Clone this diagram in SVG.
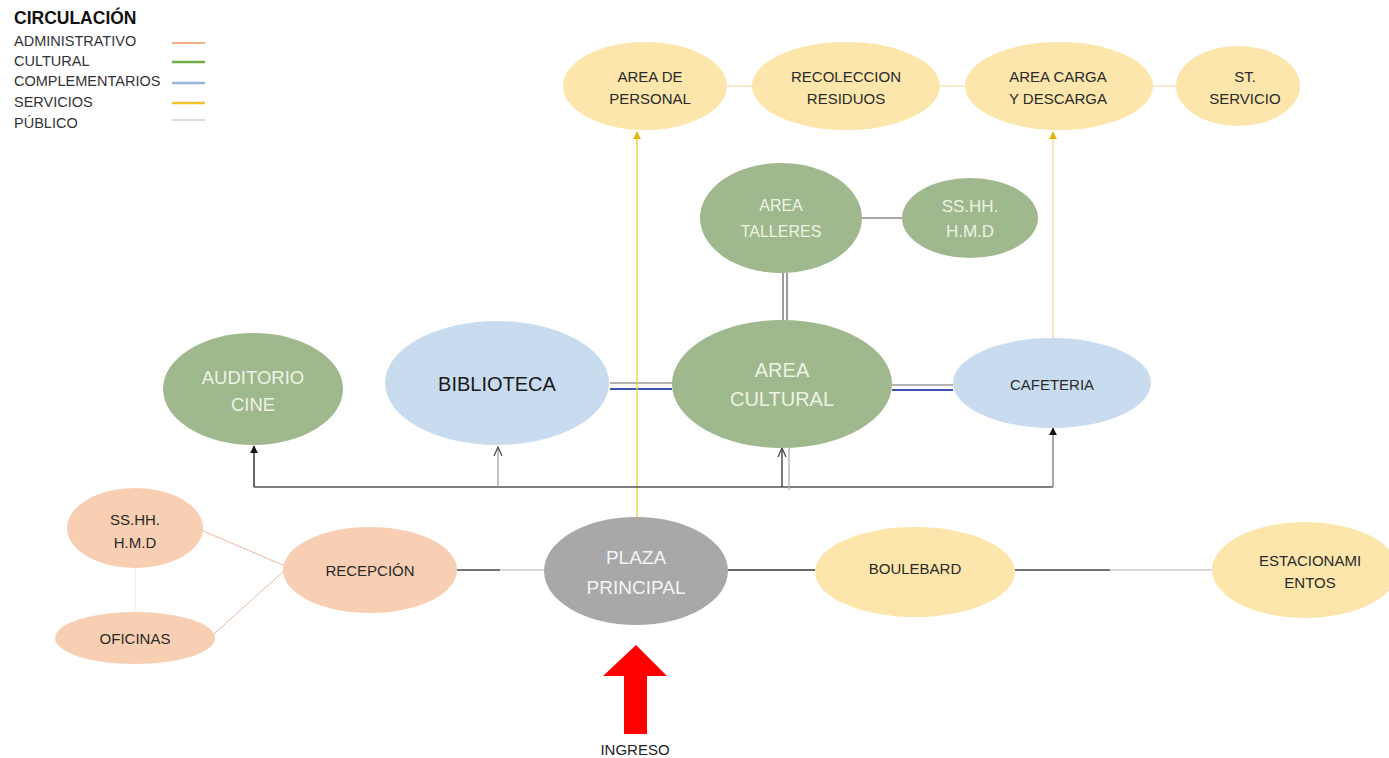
<svg xmlns="http://www.w3.org/2000/svg" width="1389" height="758" viewBox="0 0 1389 758">
<defs>
<style>
text{font-family:"Liberation Sans",Arial,sans-serif;text-anchor:middle;dominant-baseline:central}
.leg{text-anchor:start;font-size:14.5px;fill:#333}
.y{fill:#fce6ab}
.g{fill:#9fb88e}
.b{fill:#c9dcef}
.p{fill:#f8cfb2}
.gr{fill:#a8a8a8}
.dk{fill:#2a2a2a;font-size:15px}
.lt{fill:#eef3e2}
.ln{fill:none;stroke-width:1.3}
</style>
<marker id="af" viewBox="0 0 10 10" refX="9" refY="5" markerWidth="8" markerHeight="8" orient="auto" markerUnits="userSpaceOnUse"><path d="M0,0L10,5L0,10z" fill="#111"/></marker>
<marker id="ay" viewBox="0 0 10 10" refX="9" refY="5" markerWidth="8" markerHeight="8" orient="auto" markerUnits="userSpaceOnUse"><path d="M0,0L10,5L0,10z" fill="#e0b800"/></marker>
<marker id="ao" viewBox="0 0 10 10" refX="9" refY="5" markerWidth="10" markerHeight="10" orient="auto" markerUnits="userSpaceOnUse"><path d="M0,1L9,5L0,9" fill="none" stroke="#444" stroke-width="1.2"/></marker>
</defs>
<rect width="1389" height="758" fill="#fff"/>

<g id="legend">
<text x="14" y="18" style="text-anchor:start;font-size:17.5px;font-weight:bold;fill:#111">CIRCULACIÓN</text>
<text class="leg" x="14" y="41">ADMINISTRATIVO</text>
<text class="leg" x="14" y="61">CULTURAL</text>
<text class="leg" x="14" y="81">COMPLEMENTARIOS</text>
<text class="leg" x="14" y="102">SERVICIOS</text>
<text class="leg" x="14" y="123">PÚBLICO</text>
<line x1="172" y1="43" x2="205" y2="43" stroke="#f4b183" stroke-width="2"/>
<line x1="172" y1="62" x2="205" y2="62" stroke="#70ad47" stroke-width="2.5"/>
<line x1="172" y1="83" x2="205" y2="83" stroke="#9db5d8" stroke-width="2.5"/>
<line x1="172" y1="103" x2="205" y2="103" stroke="#f2c12e" stroke-width="2.5"/>
<line x1="172" y1="120" x2="205" y2="120" stroke="#d0d0d0" stroke-width="1.5"/>
</g>

<g id="connectors">
<line x1="727" y1="86" x2="752" y2="86" stroke="#f0ddb0" stroke-width="1.2"/>
<line x1="940" y1="86" x2="965" y2="86" stroke="#f0ddb0" stroke-width="1.2"/>
<line x1="1153" y1="86" x2="1177" y2="86" stroke="#f0ddb0" stroke-width="1.2"/>
<line x1="862" y1="218" x2="902" y2="218" stroke="#888" stroke-width="1.3"/>
<line x1="783" y1="273" x2="783" y2="321" stroke="#666" stroke-width="1.3"/>
<line x1="787" y1="273" x2="787" y2="321" stroke="#666" stroke-width="1.3"/>
<line x1="610" y1="383" x2="672" y2="383" stroke="#999" stroke-width="1.5"/>
<line x1="610" y1="389" x2="672" y2="389" stroke="#3c55b0" stroke-width="2"/>
<line x1="892" y1="385" x2="953" y2="385" stroke="#999" stroke-width="1.5"/>
<line x1="892" y1="390" x2="953" y2="390" stroke="#3c55b0" stroke-width="2"/>
<line x1="637" y1="517" x2="637" y2="132" stroke="#e6cf33" stroke-width="1.3" marker-end="url(#ay)"/>
<line x1="1053" y1="338" x2="1053" y2="132" stroke="#eed890" stroke-width="1.3" marker-end="url(#ay)"/>
<polyline class="ln" points="254,487 1053,487" stroke="#555"/>
<line x1="254" y1="487" x2="254" y2="446" stroke="#333" stroke-width="1.5" marker-end="url(#af)"/>
<line x1="498" y1="487" x2="498" y2="447" stroke="#999" stroke-width="1.2" marker-end="url(#ao)"/>
<line x1="782" y1="487" x2="782" y2="448" stroke="#333" stroke-width="1.3" marker-end="url(#ao)"/>
<line x1="789" y1="448" x2="789" y2="490" stroke="#aaa" stroke-width="1.2"/>
<line x1="1053" y1="487" x2="1053" y2="428" stroke="#888" stroke-width="1.5" marker-end="url(#af)"/>
<line x1="201" y1="530" x2="285" y2="566" stroke="#e8b8a0" stroke-width="1"/>
<line x1="214" y1="634" x2="285" y2="570" stroke="#e8b8a0" stroke-width="1"/>
<line x1="135" y1="568" x2="135" y2="612" stroke="#eee" stroke-width="1.2"/>
<line x1="457" y1="570" x2="500" y2="570" stroke="#444" stroke-width="1.5"/>
<line x1="500" y1="570" x2="544" y2="570" stroke="#ccc" stroke-width="1.5"/>
<line x1="728" y1="570" x2="815" y2="570" stroke="#333" stroke-width="1.6"/>
<line x1="1015" y1="570" x2="1110" y2="570" stroke="#444" stroke-width="1.5"/>
<line x1="1110" y1="570" x2="1212" y2="570" stroke="#ccc" stroke-width="1.5"/>
</g>

<g id="area-personal"><ellipse class="y" cx="645" cy="86" rx="82" ry="44"/><text class="dk" x="650" y="76">AREA DE</text><text class="dk" x="650" y="98">PERSONAL</text></g>
<g id="recoleccion"><ellipse class="y" cx="846" cy="86" rx="94" ry="44"/><text class="dk" x="846" y="76">RECOLECCION</text><text class="dk" x="846" y="98">RESIDUOS</text></g>
<g id="area-carga"><ellipse class="y" cx="1059" cy="86" rx="94" ry="44"/><text class="dk" x="1058" y="76">AREA CARGA</text><text class="dk" x="1058" y="98">Y DESCARGA</text></g>
<g id="st-servicio"><ellipse class="y" cx="1238" cy="86" rx="62" ry="40"/><text class="dk" x="1245" y="76">ST.</text><text class="dk" x="1245" y="98">SERVICIO</text></g>

<g id="area-talleres"><ellipse class="g" cx="781" cy="218" rx="81" ry="55"/><text class="lt" x="781" y="205" font-size="16">AREA</text><text class="lt" x="781" y="231" font-size="16">TALLERES</text></g>
<g id="sshh-cultural"><ellipse class="g" cx="970" cy="218" rx="68" ry="40"/><text class="lt" x="970" y="206" font-size="17">SS.HH.</text><text class="lt" x="970" y="231" font-size="17">H.M.D</text></g>

<g id="auditorio"><ellipse class="g" cx="253" cy="389" rx="90" ry="56"/><text class="lt" x="253" y="377" font-size="18.5">AUDITORIO</text><text class="lt" x="253" y="404" font-size="18.5">CINE</text></g>
<g id="biblioteca"><ellipse class="b" cx="497" cy="383" rx="112" ry="62"/><text x="497" y="384" font-size="20" fill="#1a1a1a">BIBLIOTECA</text></g>
<g id="area-cultural"><ellipse class="g" cx="782" cy="384" rx="110" ry="64"/><text class="lt" x="782" y="370" font-size="20">AREA</text><text class="lt" x="782" y="399" font-size="20">CULTURAL</text></g>
<g id="cafeteria"><ellipse class="b" cx="1052" cy="383" rx="99" ry="45"/><text class="dk" x="1052" y="384" font-size="15.5">CAFETERIA</text></g>

<g id="sshh-admin"><ellipse class="p" cx="135" cy="528" rx="68" ry="40"/><text class="dk" x="135" y="519">SS.HH.</text><text class="dk" x="135" y="542">H.M.D</text></g>
<g id="oficinas"><ellipse class="p" cx="135" cy="638" rx="80" ry="26"/><text class="dk" x="135" y="638" font-size="15.5">OFICINAS</text></g>
<g id="recepcion"><ellipse class="p" cx="370" cy="570" rx="87" ry="43"/><text class="dk" x="370" y="570">RECEPCIÓN</text></g>
<g id="plaza"><ellipse class="gr" cx="636" cy="571" rx="92" ry="54"/><text x="636" y="557" font-size="19" fill="#f4f4f4">PLAZA</text><text x="636" y="587" font-size="19" fill="#f4f4f4">PRINCIPAL</text></g>
<g id="boulebard"><ellipse class="y" cx="915" cy="572" rx="100" ry="45"/><text class="dk" x="915" y="568" font-size="16">BOULEBARD</text></g>
<g id="estacionamientos"><ellipse class="y" cx="1305" cy="570" rx="93" ry="48"/><text class="dk" x="1310" y="560" font-size="15.5">ESTACIONAMI</text><text class="dk" x="1310" y="582" font-size="15.5">ENTOS</text></g>

<g id="ingreso">
<polygon points="636,645 667,676 647,676 647,734 624,734 624,676 603,676" fill="#ff0000"/>
<text x="635" y="749" font-size="15" fill="#222">INGRESO</text>
</g>
</svg>
